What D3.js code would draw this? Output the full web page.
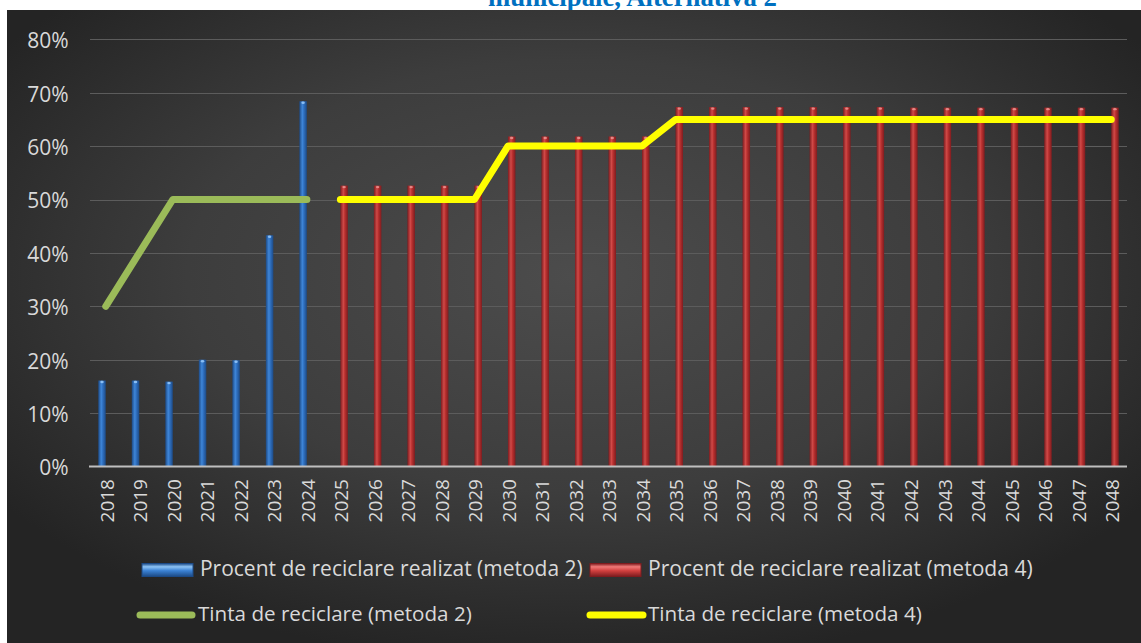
<!DOCTYPE html>
<html>
<head>
<meta charset="utf-8">
<script src="https://cdn.jsdelivr.net/npm/d3@7"></script>
<style>
  html, body { margin: 0; padding: 0; background: #ffffff; }
  svg { display: block; }
</style>
</head>
<body>
<svg id="chart" width="1141" height="643"></svg>
<script>
// Categories (years)
const years = d3.range(2018, 2049).map(String);

// Recycling achieved, method 2 (2018–2024), %
const realizedM2Years = ["2018", "2019", "2020", "2021", "2022", "2023", "2024"];
const realizedM2 = [16.1, 16.1, 15.9, 20.0, 19.9, 43.3, 68.4];

// Recycling achieved, method 4 (2025–2048), %
const realizedM4Years = d3.range(2025, 2049).map(String);
const realizedM4 = [
  52.6, 52.6, 52.6, 52.6, 52.6,
  61.8, 61.8, 61.8, 61.8, 61.8,
  67.3, 67.3, 67.3, 67.3, 67.3, 67.3, 67.3,
  67.2, 67.2, 67.2, 67.2, 67.2, 67.2, 67.2
];

// Recycling targets, %
const targetM2Years = ["2018", "2019", "2020", "2021", "2022", "2023", "2024"];
const targetM2 = [30, 40, 50, 50, 50, 50, 50];
const targetM4Years = d3.range(2025, 2049).map(String);
const targetM4 = [
  50, 50, 50, 50, 50,
  60, 60, 60, 60, 60,
  65, 65, 65, 65, 65, 65, 65, 65, 65, 65, 65, 65, 65, 65
];

const yTicks = [0, 10, 20, 30, 40, 50, 60, 70, 80];
const seriesNames = [
  "Procent de reciclare realizat (metoda 2)",
  "Procent de reciclare realizat (metoda 4)",
  "Tinta de reciclare (metoda 2)",
  "Tinta de reciclare (metoda 4)"
];
const titleText = "municipale, Alternativa 2";

const svg = d3.select("#chart");
const W = 1141, H = 643;
const font = "'Open Sans', 'Noto Sans', sans-serif";
const textColor = "#d9d9d9";

const defs = svg.append("defs");

// Panel background gradient
const bg = defs.append("radialGradient").attr("id", "bgGrad")
  .attr("cx", 0.5).attr("cy", 0.42).attr("r", 0.62);
bg.append("stop").attr("offset", "0%").attr("stop-color", "#4c4c4c");
bg.append("stop").attr("offset", "55%").attr("stop-color", "#3d3d3d");
bg.append("stop").attr("offset", "100%").attr("stop-color", "#242424");

// Cylinder shading for bars
function barGradient(id, edge, mid, light) {
  const g = defs.append("linearGradient").attr("id", id)
    .attr("x1", 0).attr("x2", 1).attr("y1", 0).attr("y2", 0);
  g.append("stop").attr("offset", "0%").attr("stop-color", edge);
  g.append("stop").attr("offset", "40%").attr("stop-color", light);
  g.append("stop").attr("offset", "60%").attr("stop-color", mid);
  g.append("stop").attr("offset", "100%").attr("stop-color", edge);
}
barGradient("blueBar", "#1d4a85", "#2f70c0", "#3f86d8");
barGradient("redBar", "#7e1c1f", "#b9302f", "#d04a48");

// Legend swatch bevels (vertical)
function swatchGradient(id, top, mid, bottom) {
  const g = defs.append("linearGradient").attr("id", id)
    .attr("x1", 0).attr("x2", 0).attr("y1", 0).attr("y2", 1);
  g.append("stop").attr("offset", "0%").attr("stop-color", bottom);
  g.append("stop").attr("offset", "25%").attr("stop-color", top);
  g.append("stop").attr("offset", "55%").attr("stop-color", mid);
  g.append("stop").attr("offset", "100%").attr("stop-color", bottom);
}
swatchGradient("blueSw", "#8ec4f5", "#3b82d4", "#1c4a86");
swatchGradient("redSw", "#f07a78", "#d2403f", "#7e1c1f");

// Fit a text element's font size to a target width
function fitWidth(sel, base, target) {
  sel.attr("font-size", base);
  const len = sel.node().getComputedTextLength();
  sel.attr("font-size", base * target / len);
}

// Title (partially above the panel)
const title = svg.append("text")
  .attr("x", 632.5).attr("y", 6)
  .attr("text-anchor", "middle")
  .attr("font-family", "'Liberation Serif', 'Times New Roman', serif")
  .attr("font-weight", "bold")
  .attr("fill", "#0070c0")
  .text(titleText);
fitWidth(title, 21, 289);

// Panel
svg.append("rect")
  .attr("x", 7).attr("y", 10).attr("width", W - 7).attr("height", H - 10)
  .attr("fill", "url(#bgGrad)");

// Scales
const x = d3.scaleBand().domain(years).range([89, 1128]).paddingInner(0).paddingOuter(0);
const sub = d3.scaleBand().domain(["m2", "m4"]).range([-7.5, 7.5]);
const y = d3.scaleLinear().domain([0, 80]).range([466.5, 39.3]);
const cx = d => x(d) + x.bandwidth() / 2;

// Gridlines
svg.append("g").selectAll("line")
  .data(yTicks.filter(t => t > 0))
  .join("line")
  .attr("x1", 90).attr("x2", 1127)
  .attr("y1", d => Math.round(y(d)) + 0.5).attr("y2", d => Math.round(y(d)) + 0.5)
  .attr("stroke", "#5c5c5c").attr("stroke-width", 1.2);

// Y axis labels
const yAxis = d3.axisLeft(y).tickValues(yTicks).tickFormat(d => d + "%").tickSize(0).tickPadding(0);
const gy = svg.append("g").attr("transform", "translate(68.5,0)").call(yAxis);
gy.select(".domain").remove();
gy.selectAll("text")
  .attr("font-family", font).attr("font-size", 21)
  .attr("fill", textColor).attr("dy", "0.4em");

// Bars: method 2 (left slot), method 4 (right slot)
const m2Data = realizedM2Years.map((yr, i) => ({ yr, v: realizedM2[i] }));
const m4Data = realizedM4Years.map((yr, i) => ({ yr, v: realizedM4[i] }));

function drawBars(data, key, fill, cap) {
  const g = svg.append("g");
  g.selectAll("rect").data(data).join("rect")
    .attr("x", d => cx(d.yr) + sub(key))
    .attr("width", sub.bandwidth())
    .attr("y", d => y(d.v))
    .attr("height", d => y(0) - y(d.v))
    .attr("fill", fill);
  g.selectAll("ellipse").data(data).join("ellipse")
    .attr("cx", d => cx(d.yr) + sub(key) + sub.bandwidth() / 2)
    .attr("cy", d => y(d.v) + 1.5)
    .attr("rx", 1.7).attr("ry", 1.2)
    .attr("fill", cap).attr("opacity", 0.8);
}
drawBars(m2Data, "m2", "url(#blueBar)", "#9fd0ff");
drawBars(m4Data, "m4", "url(#redBar)", "#f09a98");

// X axis line
svg.append("line")
  .attr("x1", 89).attr("x2", 1127)
  .attr("y1", y(0)).attr("y2", y(0))
  .attr("stroke", "#bfbfbf").attr("stroke-width", 2);

// Year labels (rotated)
const xAxis = d3.axisBottom(x).tickSize(0).tickPadding(0);
const gx = svg.append("g").call(xAxis);
gx.select(".domain").remove();
gx.selectAll(".tick").attr("transform", d => `translate(${cx(d) + 1},479)`);
gx.selectAll("text")
  .attr("transform", "rotate(-90)")
  .attr("text-anchor", "end")
  .attr("dy", "0.36em")
  .attr("y", 0)
  .attr("font-family", font).attr("font-size", 19)
  .attr("fill", textColor);

// Target lines
const line = d3.line().x(d => cx(d.yr)).y(d => y(d.v));
const t2 = targetM2Years.map((yr, i) => ({ yr, v: targetM2[i] }));
const t4 = targetM4Years.map((yr, i) => ({ yr, v: targetM4[i] }));
svg.append("path").datum(t2).attr("d", line)
  .attr("fill", "none").attr("stroke", "#9bbb59").attr("stroke-width", 7)
  .attr("stroke-linecap", "round").attr("stroke-linejoin", "round");
svg.append("path").datum(t4).attr("d", line)
  .attr("fill", "none").attr("stroke", "#ffff00").attr("stroke-width", 7)
  .attr("stroke-linecap", "round").attr("stroke-linejoin", "round");

// Legend
const legend = svg.append("g").attr("font-family", font).attr("fill", textColor);
const legendItems = [
  { name: seriesNames[0], type: "bar", fill: "url(#blueSw)", stroke: "#1c4a86", sx: 142, sw: 51, tx: 200, ty: 576, sy: 570, tw: 383 },
  { name: seriesNames[1], type: "bar", fill: "url(#redSw)", stroke: "#7e1c1f", sx: 590, sw: 51, tx: 648, ty: 576, sy: 570, tw: 385 },
  { name: seriesNames[2], type: "line", color: "#9bbb59", sx: 140, sw: 52, tx: 198, ty: 621, sy: 615, tw: 274 },
  { name: seriesNames[3], type: "line", color: "#ffff00", sx: 590, sw: 53, tx: 648, ty: 621, sy: 615, tw: 274 }
];
legendItems.forEach(it => {
  if (it.type === "bar") {
    legend.append("rect")
      .attr("x", it.sx).attr("y", it.sy - 6.5).attr("width", it.sw).attr("height", 13)
      .attr("fill", it.fill).attr("stroke", it.stroke).attr("stroke-width", 1);
  } else {
    legend.append("line")
      .attr("x1", it.sx).attr("x2", it.sx + it.sw)
      .attr("y1", it.sy).attr("y2", it.sy)
      .attr("stroke", it.color).attr("stroke-width", 7).attr("stroke-linecap", "round");
  }
  const t = legend.append("text").attr("x", it.tx).attr("y", it.ty).text(it.name);
  fitWidth(t, 20, it.tw);
});
</script>
</body>
</html>
